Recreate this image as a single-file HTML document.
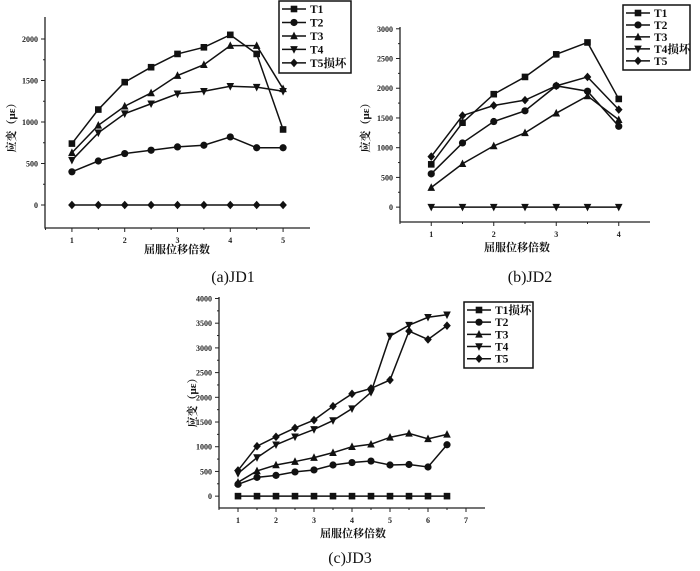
<!DOCTYPE html>
<html><head><meta charset="utf-8">
<style>
html,body{margin:0;padding:0;background:#fff;}
svg{display:block;}
text{font-family:"Liberation Serif","Noto Serif CJK SC",serif;}
</style></head>
<body>
<svg id="fig" width="700" height="571" viewBox="0 0 700 571" xmlns="http://www.w3.org/2000/svg"></svg>
<script>
// ---- data ----
const jd1X = [1,1.5,2,2.5,3,3.5,4,4.5,5];
const jd1T1 = [740,1150,1480,1660,1820,1900,2050,1820,910];
const jd1T2 = [400,530,620,660,700,720,820,690,690];
const jd1T3 = [630,960,1190,1350,1560,1690,1920,1920,1400];
const jd1T4 = [540,870,1100,1220,1340,1370,1430,1420,1370];
const jd1T5 = [0,0,0,0,0,0,0,0,0];
const jd1Labels = ["T1","T2","T3","T4","T5损坏"];
const jd1XTicks = [1,2,3,4,5];
const jd1YTicks = [0,500,1000,1500,2000];

const jd2X = [1,1.5,2,2.5,3,3.5,4];
const jd2T1 = [720,1420,1900,2190,2570,2770,1820];
const jd2T2 = [560,1080,1440,1620,2040,1950,1360];
const jd2T3 = [330,730,1030,1250,1580,1870,1470];
const jd2T4 = [0,0,0,0,0,0,0];
const jd2T5 = [850,1540,1710,1800,2040,2190,1640];
const jd2Labels = ["T1","T2","T3","T4损坏","T5"];
const jd2XTicks = [1,2,3,4];
const jd2YTicks = [0,500,1000,1500,2000,2500,3000];

const jd3X = [1,1.5,2,2.5,3,3.5,4,4.5,5,5.5,6,6.5];
const jd3T1 = [0,0,0,0,0,0,0,0,0,0,0,0];
const jd3T2 = [240,380,420,490,530,630,680,710,630,640,590,1040];
const jd3T3 = [280,510,630,700,780,880,1000,1050,1190,1270,1160,1250];
const jd3T4 = [460,780,1040,1200,1350,1530,1770,2100,3240,3460,3620,3670];
const jd3T5 = [520,1010,1200,1380,1540,1820,2070,2180,2350,3340,3170,3450];
const jd3Labels = ["T1损坏","T2","T3","T4","T5"];
const jd3XTicks = [1,2,3,4,5,6,7];
const jd3YTicks = [0,500,1000,1500,2000,2500,3000,3500,4000];

const markers = ["square","circle","tri","tridown","diamond"];
const NS = "http://www.w3.org/2000/svg";
const svg = document.getElementById("fig");
function el(tag, attrs, parent){
  const e = document.createElementNS(NS, tag);
  for (const k in attrs) e.setAttribute(k, attrs[k]);
  (parent||svg).appendChild(e);
  return e;
}
function marker(type, x, y, g){
  const s = 3.3;
  let m;
  if (type==="square") m = el("rect",{x:x-s,y:y-s,width:2*s,height:2*s,fill:"#111"},g);
  else if (type==="circle") m = el("circle",{cx:x,cy:y,r:s+0.3,fill:"#111"},g);
  else if (type==="tri") m = el("polygon",{points:`${x},${y-s-1} ${x-s-0.5},${y+s} ${x+s+0.5},${y+s}`,fill:"#111"},g);
  else if (type==="tridown") m = el("polygon",{points:`${x},${y+s+1} ${x-s-0.5},${y-s} ${x+s+0.5},${y-s}`,fill:"#111"},g);
  else m = el("polygon",{points:`${x},${y-s-1} ${x+s+0.5},${y} ${x},${y+s+1} ${x-s-0.5},${y}`,fill:"#111"},g);
  return m;
}
function chart(cfg){
  const g = el("g",{});
  
  
  const sx = v => cfg.L + (v - cfg.xmin)/(cfg.xmax-cfg.xmin)*(cfg.R-cfg.L);
  const sy = v => cfg.B - (v - cfg.ymin)/(cfg.ymax-cfg.ymin)*(cfg.B-cfg.T);
  const ax = el("path",{d:`M${cfg.L},${cfg.T} V${cfg.B} H${cfg.R}`,stroke:"#222","stroke-width":1.3,fill:"none"},g);
  
  
  cfg.yt.forEach((v,i)=>{
    const y = sy(v);
    el("line",{x1:cfg.L-4,x2:cfg.L,y1:y,y2:y,stroke:"#222","stroke-width":1},g);
    if (i < cfg.yt.length-1){ const ym = sy(v + (cfg.yt[1]-cfg.yt[0])/2); el("line",{x1:cfg.L-2,x2:cfg.L,y1:ym,y2:ym,stroke:"#222"},g); }
    const t = el("text",{x:cfg.L-7,y:y+3,"text-anchor":"end","font-size":8,"font-weight":"bold",fill:"#222"},g);
    t.textContent = v;
    
    
  });
  cfg.xt.forEach(v=>{
    const x = sx(v);
    el("line",{x1:x,x2:x,y1:cfg.B,y2:cfg.B+4,stroke:"#222"},g);
    el("line",{x1:sx(v-0.5),x2:sx(v-0.5),y1:cfg.B,y2:cfg.B+2,stroke:"#222"},g);
    const t = el("text",{x:x,y:cfg.B+15,"text-anchor":"middle","font-size":8,"font-weight":"bold",fill:"#222"},g);
    t.textContent = v;
    
    
  });
  cfg.series.forEach((arr,si)=>{
    const sg = el("g",{},g);
    
    
    const pts = arr.map((v,i)=>sx(cfg.x[i])+","+sy(v)).join(" ");
    el("polyline",{points:pts,fill:"none",stroke:"#111","stroke-width":1.5},sg);
    arr.forEach((v,i)=>{ marker(markers[si], sx(cfg.x[i]), sy(v), sg); });
  });
  const lg = el("g",{},g);
  
  
  el("rect",{x:cfg.lx,y:cfg.ly,width:cfg.lw,height:cfg.lh,fill:"#fff",stroke:"#111","stroke-width":1.5},lg);
  cfg.labels.forEach((lab,i)=>{
    const y = cfg.ly + 8 + i*(cfg.lh-10)/4.6;
    const e = el("g",{},lg);
    
    
    el("line",{x1:cfg.lx+3,x2:cfg.lx+27,y1:y,y2:y,stroke:"#111","stroke-width":1.5},e);
    marker(markers[i], cfg.lx+15, y, e);
    const t = el("text",{x:cfg.lx+31,y:y+4,"font-size":11.5,"font-weight":"bold",fill:"#111"},e);
    t.textContent = lab;
  });
  const xt = el("text",{x:cfg.xlx,y:cfg.xly,"text-anchor":"middle","font-size":11,"font-weight":"bold",fill:"#111"},g);
  xt.textContent = "屈服位移倍数";
  
  
  const yt = el("text",{x:0,y:0,"text-anchor":"middle","font-size":11,"font-weight":"bold",fill:"#111",transform:`translate(${cfg.ylx},${cfg.yly}) rotate(-90)`},g);
  yt.textContent = "应变（με）";
  
  
  const cap = el("text",{x:cfg.cx,y:cfg.cy,"text-anchor":"middle","font-size":16,fill:"#111"},g);
  cap.textContent = cfg.caption;
  
  
}
chart({name:"chart-jd1",L:45,R:310,T:17,B:228,xmin:0.49,xmax:5.51,ymin:-277,ymax:2265,
  xt:jd1XTicks,yt:jd1YTicks,x:jd1X,series:[jd1T1,jd1T2,jd1T3,jd1T4,jd1T5],labels:jd1Labels,
  lx:279,ly:1,lw:72,lh:72,xlx:177,xly:253,ylx:15,yly:125,cx:233,cy:282,caption:"(a)JD1"});
chart({name:"chart-jd2",L:400,R:650,T:27,B:222,xmin:0.5,xmax:4.5,ymin:-250,ymax:3030,
  xt:jd2XTicks,yt:jd2YTicks,x:jd2X,series:[jd2T1,jd2T2,jd2T3,jd2T4,jd2T5],labels:jd2Labels,
  lx:623,ly:5,lw:67,lh:65,xlx:517,xly:251,ylx:369,yly:125,cx:530,cy:282,caption:"(b)JD2"});
chart({name:"chart-jd3",L:219,R:485,T:297,B:508,xmin:0.5,xmax:7.5,ymin:-240,ymax:4030,
  xt:jd3XTicks,yt:jd3YTicks,x:jd3X,series:[jd3T1,jd3T2,jd3T3,jd3T4,jd3T5],labels:jd3Labels,
  lx:464,ly:302,lw:69,lh:66,xlx:353,xly:537,ylx:196,yly:400,cx:350,cy:563,caption:"(c)JD3"});
</script>
</body></html>
